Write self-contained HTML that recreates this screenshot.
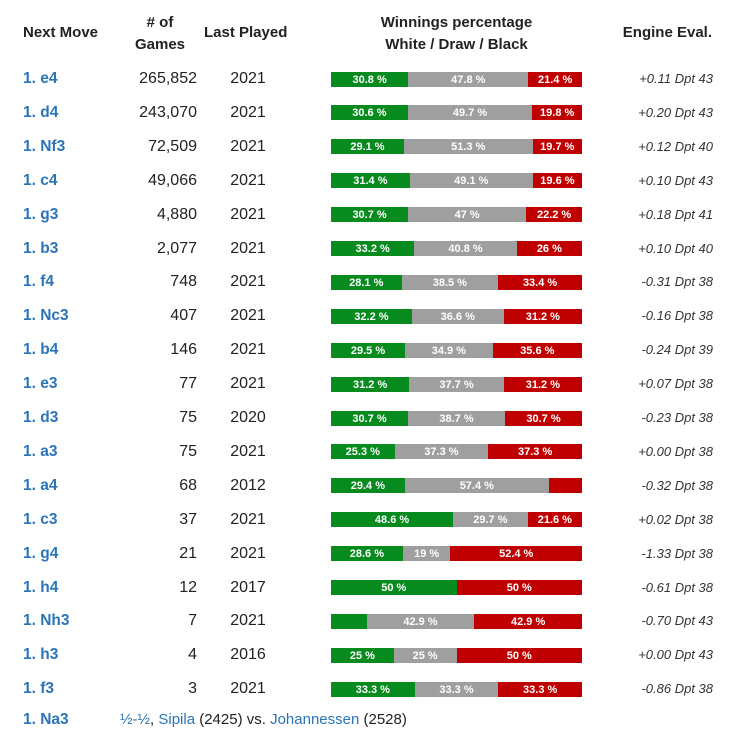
<!DOCTYPE html>
<html><head><meta charset="utf-8"><style>
body{margin:0;width:754px;height:746px;background:#fff;font-family:"Liberation Sans",Arial,sans-serif;position:relative;overflow:hidden}
.h{position:absolute;font-weight:bold;font-size:15px;color:#222;line-height:22px}
.c{position:absolute;font-size:16px;color:#222;line-height:20px}
.mv{color:#2b74b8;font-weight:bold;font-size:15.5px}
.ev{position:absolute;font-size:13px;font-style:italic;color:#333;line-height:20px;text-align:right;width:140px}
.bar{position:absolute;height:15px;color:#fff;font-size:11px;font-weight:bold;text-align:center;line-height:16px;overflow:hidden;white-space:nowrap}
a{color:#2b74b8;text-decoration:none}
</style></head><body>
<div class="h" style="left:23px;top:22px">Next Move</div>
<div class="h" style="left:130px;top:12px;width:60px;text-align:center">#&nbsp;of<br>Games</div>
<div class="h" style="left:204px;top:22px">Last Played</div>
<div class="h" style="left:331px;top:12px;width:251px;text-align:center">Winnings percentage<br>White / Draw / Black</div>
<div class="h" style="left:600px;top:22px;width:112px;text-align:right">Engine Eval.</div>
<div id="rows"></div>
<div class="c" style="left:23px;top:710px;font-size:15px"><span class="mv">1. Na3</span><span style="position:absolute;left:97px;white-space:nowrap"><a>½-½</a>, <a>Sipila</a> (2425) vs. <a>Johannessen</a> (2528)</span></div>
<script>
const moves=["1. e4","1. d4","1. Nf3","1. c4","1. g3","1. b3","1. f4","1. Nc3","1. b4","1. e3","1. d3","1. a3","1. a4","1. c3","1. g4","1. h4","1. Nh3","1. h3","1. f3"];
const games=["265,852","243,070","72,509","49,066","4,880","2,077","748","407","146","77","75","75","68","37","21","12","7","4","3"];
const years=["2021","2021","2021","2021","2021","2021","2021","2021","2021","2021","2020","2021","2012","2021","2021","2017","2021","2016","2021"];
const white=[30.8,30.6,29.1,31.4,30.7,33.2,28.1,32.2,29.5,31.2,30.7,25.3,29.4,48.6,28.6,50,14.2,25,33.3];
const draw=[47.8,49.7,51.3,49.1,47,40.8,38.5,36.6,34.9,37.7,38.7,37.3,57.4,29.7,19,0,42.9,25,33.3];
const black=[21.4,19.8,19.7,19.6,22.2,26,33.4,31.2,35.6,31.2,30.7,37.3,13.2,21.6,52.4,50,42.9,50,33.3];
const wLbl=["30.8 %","30.6 %","29.1 %","31.4 %","30.7 %","33.2 %","28.1 %","32.2 %","29.5 %","31.2 %","30.7 %","25.3 %","29.4 %","48.6 %","28.6 %","50 %","","25 %","33.3 %"];
const dLbl=["47.8 %","49.7 %","51.3 %","49.1 %","47 %","40.8 %","38.5 %","36.6 %","34.9 %","37.7 %","38.7 %","37.3 %","57.4 %","29.7 %","19 %","","42.9 %","25 %","33.3 %"];
const bLbl=["21.4 %","19.8 %","19.7 %","19.6 %","22.2 %","26 %","33.4 %","31.2 %","35.6 %","31.2 %","30.7 %","37.3 %","","21.6 %","52.4 %","50 %","42.9 %","50 %","33.3 %"];
const evals=["+0.11 Dpt 43","+0.20 Dpt 43","+0.12 Dpt 40","+0.10 Dpt 43","+0.18 Dpt 41","+0.10 Dpt 40","-0.31 Dpt 38","-0.16 Dpt 38","-0.24 Dpt 39","+0.07 Dpt 38","-0.23 Dpt 38","+0.00 Dpt 38","-0.32 Dpt 38","+0.02 Dpt 38","-1.33 Dpt 38","-0.61 Dpt 38","-0.70 Dpt 43","+0.00 Dpt 43","-0.86 Dpt 38"];
const root=document.getElementById('rows');
const X0=331,W=251,Y0=79,DY=33.9;
function add(html,style,cls){const d=document.createElement('div');d.className=cls;d.style.cssText=style;d.innerHTML=html;root.appendChild(d);return d;}
moves.forEach((m,i)=>{
 const cy=Y0+i*DY;
 let e=add(m,`left:23px;top:${cy-10}px`,'c mv');
 
 
 e=add(games[i],`left:100px;top:${cy-10}px;width:97px;text-align:right`,'c');
 
 
 e=add(years[i],`left:218px;top:${cy-10}px;width:60px;text-align:center`,'c');
 
 
 const tot=white[i]+draw[i]+black[i];
 const segs=[[white[i],wLbl[i],'#078a1e','bar-white'],[draw[i],dLbl[i],'#9f9f9f','bar-draw'],[black[i],bLbl[i],'#c00000','bar-black']];
 let x=X0;
 segs.forEach(s=>{const w=s[0]/tot*W;
  e=add(s[1],`left:${x}px;top:${cy-7.5}px;width:${w}px;background:${s[2]}`,'bar');
  
  
  x+=w;});
 e=add(evals[i],`left:573px;top:${cy-10}px`,'ev');
 
 
});
</script>
</body></html>
